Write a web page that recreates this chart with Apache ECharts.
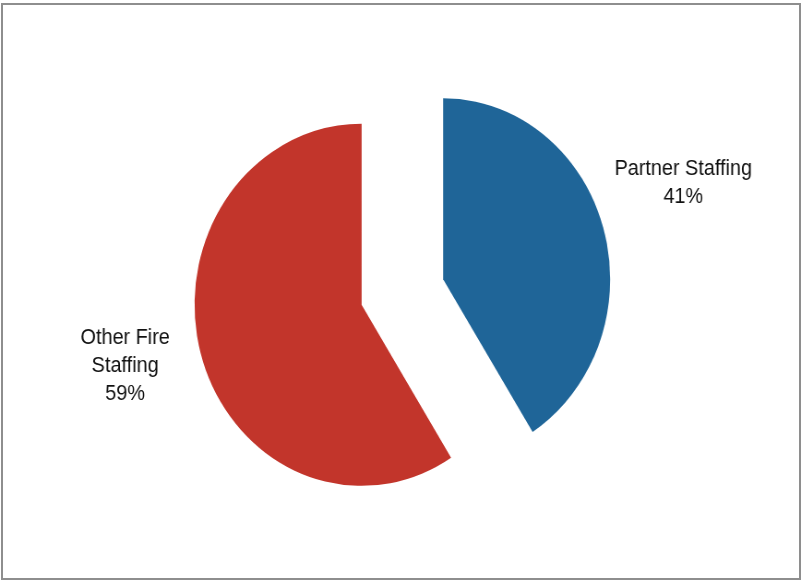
<!DOCTYPE html>
<html>
<head>
<meta charset="utf-8">
<script src="https://cdn.jsdelivr.net/npm/echarts@6/dist/echarts.min.js"></script>
<style>
  html, body { margin: 0; padding: 0; background: #ffffff; width: 801px; height: 580px; overflow: hidden; }
  #frame { position: absolute; left: 1px; top: 3px; width: 796px; height: 573px; border: 2px solid #8e8e8e; box-sizing: content-box; }
  /* the printed chart is slightly narrower than tall, so the pie is squeezed horizontally */
  #chart { position: absolute; left: 0; top: 0; width: 868px; height: 580px; transform: scaleX(0.9228); transform-origin: 0 0; }
</style>
</head>
<body>
<div id="frame"></div>
<div id="chart"></div>
<script>
// Staffing split
const categories = ['Partner Staffing', 'Other Fire Staffing'];
const labelLines = ['Partner Staffing', 'Other Fire\nStaffing'];
const values = [41, 59];
const colors = ['#1f6598', '#c2352b'];

const chart = echarts.init(document.getElementById('chart'), null, { renderer: 'canvas', devicePixelRatio: 1 });

// nudges applied to the outside labels (chart pixels, before the horizontal squeeze)
const labelNudges = [
  { dx: 37, dy: -41 },
  { dx: -33, dy: 7 }
];

chart.setOption({
  animation: false,
  series: [{
    type: 'pie',
    center: [436, 292],
    radius: 181,
    startAngle: 90,
    clockwise: true,
    selectedMode: 'multiple',
    selectedOffset: 46,
    emphasis: { disabled: true },
    data: categories.map((name, i) => ({
      name: name,
      value: values[i],
      selected: true,
      itemStyle: { color: colors[i], borderWidth: 0 },
      select: { itemStyle: { color: colors[i], borderWidth: 0 } }
    })),
    label: {
      show: true,
      position: 'outside',
      color: '#111111',
      fontFamily: 'Liberation Sans',
      fontSize: 21.5,
      lineHeight: 28,
      formatter: p => labelLines[p.dataIndex] + '\n' + Math.round(p.percent) + '%'
    },
    labelLine: { show: false },
    labelLayout: p => ({
      dx: labelNudges[p.dataIndex].dx,
      dy: labelNudges[p.dataIndex].dy,
      align: 'center'
    })
  }]
});
</script>
</body>
</html>
